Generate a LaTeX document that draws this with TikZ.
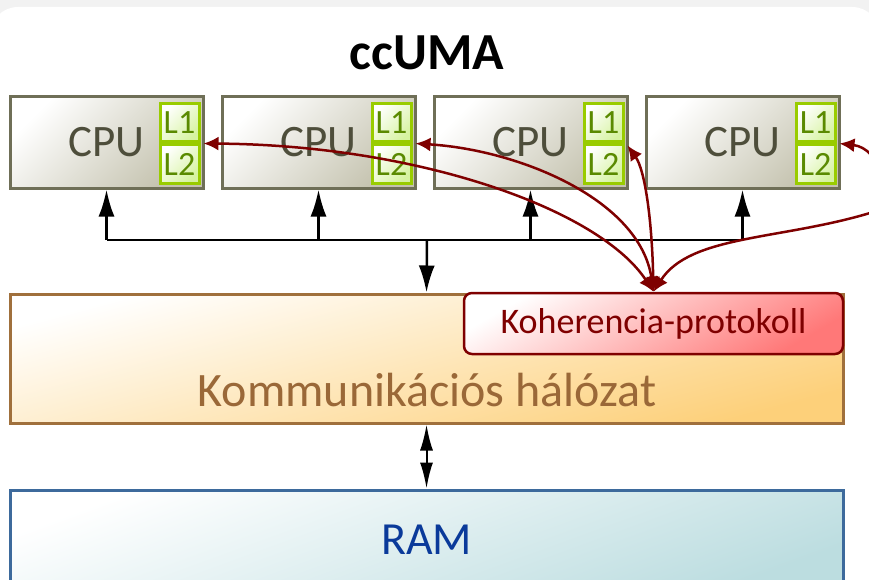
\documentclass[tikz,border=0pt]{standalone}
\usepackage{fontspec}
\setmainfont{Carlito}
\usetikzlibrary{arrows.meta,positioning,shadings}

\definecolor{bggray}{HTML}{F2F2F2}
\definecolor{cpuline}{HTML}{6F6F57}
\definecolor{cpufill}{HTML}{C4C2AE}
\definecolor{cputext}{HTML}{4E4E3B}
\definecolor{cacheline}{HTML}{99CC00}
\definecolor{cachefill}{HTML}{D6F3A0}
\definecolor{cachetext}{HTML}{5A8A00}
\definecolor{netline}{HTML}{A0703C}
\definecolor{netfill}{HTML}{FDD07A}
\definecolor{nettext}{HTML}{9A6838}
\definecolor{cohline}{HTML}{7F0000}
\definecolor{cohfill}{HTML}{FF7878}
\definecolor{ramline}{HTML}{3D6A9C}
\definecolor{ramfill}{HTML}{BCDDE0}
\definecolor{ramtext}{HTML}{0A3A9A}

\begin{document}
\begin{tikzpicture}[x=1pt,y=-1pt,
    cpubox/.style={draw=cpuline,line width=3pt,top color=white,bottom color=cpufill,shading angle=45,
      minimum width=193pt,minimum height=91pt,inner sep=0pt,text=cputext,font=\fontsize{45}{50}\selectfont},
    cachebox/.style={draw=cacheline,line width=3pt,top color=white,bottom color=cachefill,shading angle=45,
      minimum width=39pt,minimum height=38pt,inner sep=0pt,text=cachetext,font=\fontsize{34}{36}\selectfont},
    busline/.style={line width=2.5pt,-{Latex[length=27pt,width=16pt]}},
    cohline/.style={draw=cohline,line width=2.5pt,{Latex[length=15pt,width=14pt]}-{Latex[length=15pt,width=14pt]}}]

\useasboundingbox (0,0) rectangle (869,580);
\fill[bggray] (0,0) rectangle (869,580);
\fill[white,rounded corners=28pt] (-10,7) rectangle (880,620);

\node[font=\bfseries\fontsize{52}{57}\selectfont] (title) at (427,53) {ccUMA};

\foreach \i [count=\n] in {0,1,2,3}
  {
  \node[cpubox] (C\n) at (106.5+212*\i,142.5) {CPU};
  \node[cachebox,anchor=north east] (A\n) at ([xshift=-4pt,yshift=-7pt]C\n.north east) {L1};
  \node[cachebox,below=0pt of A\n] (B\n) {L2};
  }

\node[draw=netline,line width=3pt,top color=white,bottom color=netfill,shading angle=15,
  minimum width=833pt,minimum height=129pt] (net) at (426.5,358.5) {};
\node[text=nettext,font=\fontsize{48}{52}\selectfont] (nettxt) at (427,390) {Kommunikációs hálózat};

\node[draw=cohline,line width=2.5pt,rounded corners=8pt,top color=white,bottom color=cohfill,shading angle=30,
  minimum width=379pt,minimum height=61pt,text=cohline,font=\fontsize{36}{40}\selectfont] (proto) at (653.5,323.5) {Koherencia-protokoll};

\node[draw=ramline,line width=3pt,top color=white,bottom color=ramfill,shading angle=20,
  minimum width=833pt,minimum height=100pt,text=ramtext,font=\fontsize{46}{50}\selectfont] (ram) at (426.5,540) {RAM};

% bus
\coordinate (bus) at (427,240);
\draw[line width=2.5pt] (C1.south |- bus) -- (C4.south |- bus);
\foreach \n in {1,...,4}
  \draw[busline] (C\n.south |- bus) -- (C\n.south);
\draw[busline] (bus) -- (net.north);
\draw[line width=2pt,{Latex[length=26pt,width=13pt]}-{Latex[length=26pt,width=13pt]}] (net.south) -- (ram.north);

% coherence
\draw[cohline] (proto.north) .. controls (600,210) and (420,145) .. ([xshift=3pt]A1.south east);
\draw[cohline] (proto.north) .. controls (640,200) and (520,150) .. ([xshift=3pt]A2.south east);
\draw[cohline] (proto.north) .. controls (652,220) and (645,170) .. ([xshift=3pt,yshift=-2pt]A3.south east);
\draw[cohline] (proto.north) .. controls (690,235) and (780,240) .. (870,213) .. controls (895,195) and (880,148) .. ([xshift=3pt]A4.south east);
\end{tikzpicture}
\end{document}
